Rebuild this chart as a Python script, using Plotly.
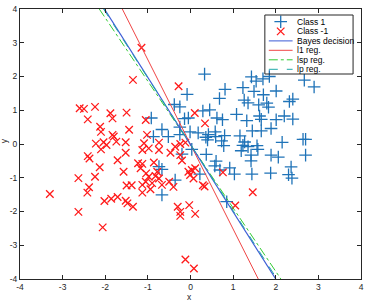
import plotly.graph_objects as go

# ---------------- data ----------------
class1_x = [-0.92, -0.38, -0.25, -0.08, -0.67, -0.87, -0.52, -0.25, -0.25, -0.14, -0.05, -0.01,
            0.18, 0.42, 0.36, 0.58, 0.59, 0.33, 0.81, 0.68, 0.29, 0.45, 0.62, 0.75, 0.80, 1.08,
            1.16, 1.32, 1.43, 1.54, 1.70, 1.85, 2.67, 2.90, 1.23, 1.49, 1.71, 2.01, 1.26, 1.35,
            1.60, 1.79, 1.83, 2.32, 2.40, 1.62, 1.66, 2.01, 2.20, 2.40, 1.45, 1.66, 1.89, 1.27,
            2.15, 2.64, 2.70, 0.78, 1.23, 1.35, 1.56, 1.19, 1.58, 1.42, 1.42, 1.89, 2.06, 2.70,
            1.88, 1.44, 2.36, 2.30, 2.38, 0.92, 1.03, 0.85, 0.37, 0.60, 0.57, 0.22, 0.69, 0.03,
            0.40, 0.73, -0.20, -0.74, -0.67, -0.36, -0.67]
class1_y = [0.77, 1.17, 1.10, 1.47, 0.43, 0.22, 0.22, 0.28, 0.50, 0.75, 0.77, 0.36,
            0.33, 0.28, 0.20, 0.36, 0.22, 2.07, 1.62, 1.35, 0.98, 1.01, 0.77, 0.72, 0.25, 0.88,
            0.24, 0.69, 1.99, 1.86, 1.93, 2.00, 1.89, 1.69, 1.67, 1.56, 1.46, 1.57, 1.30, 1.22,
            1.16, 1.21, 1.09, 1.26, 1.33, 0.83, 0.73, 0.72, 0.83, 0.74, 0.39, 0.39, 0.46, 0.06,
            0.05, 0.14, 0.14, -0.05, -0.04, -0.08, -0.05, -0.20, -0.16, -0.33, -0.50, -0.33, -0.39, -0.33,
            -0.86, -0.89, -0.68, -0.91, -1.01, -0.71, -0.89, -1.71, -0.31, -0.51, -0.65, -0.89, -0.77, -0.16,
            0.12, 0.09, -0.30, -0.67, -0.75, -1.07, -1.51]

classm1_x = [-1.15, -1.35, -0.28, 0.10, 0.34, -2.60, -2.50, -2.24, -2.41, -1.88, -1.83, -1.50,
             -2.12, -2.10, -1.83, -1.80, -1.44, -1.05, -1.02, -2.22, -2.04, -1.97, -2.10, -1.74,
             -1.52, -1.52, -2.41, -2.37, -1.71, -2.13, -1.57, -2.63, -2.24, -1.50, -2.38, -2.42,
             -3.30, -2.02, -1.86, -1.71, -1.52, -1.48, -1.35, -1.38, -2.63, -2.06, -1.09, -0.98,
             -0.74, -0.74, -1.13, -0.47, -0.36, -0.24, -0.12, -0.24, -0.20, -1.23, -1.13, -0.86,
             -1.17, -0.78, -0.05, 0.03, 0.11, -0.01, 0.07, -1.04, -0.98, -0.82, -0.74, -1.05,
             -0.90, -1.13, -0.94, -1.13, -0.50, -0.40, -0.67, 0.33, 0.29, 0.76, 1.46, 1.05,
             -0.30, -0.24, -0.24, -0.03, 0.11, -0.12, 0.08]
classm1_y = [2.85, 1.90, 1.71, 0.92, 0.61, 1.06, 1.04, 1.10, 0.73, 0.91, 0.76, 0.93,
             0.51, 0.36, 0.27, 0.22, 0.42, 0.71, 0.27, 0.01, 0.05, -0.03, -0.16, 0.07,
             0.05, -0.26, -0.36, -0.43, -0.48, -0.69, -0.82, -1.01, -0.97, -1.23, -1.28, -1.44,
             -1.48, -1.69, -1.62, -1.57, -1.68, -1.76, -1.86, -1.22, -2.01, -2.47, 0.02, -0.13,
             0.04, -0.18, -0.18, -0.26, -0.08, 0.00, 0.04, -0.33, -0.49, -0.57, -0.59, -0.55,
             -0.72, -0.82, -0.82, -0.77, -0.72, -0.92, -1.02, -0.87, -0.97, -0.95, -1.02, -1.12,
             -1.16, -1.21, -1.34, -1.44, -1.12, -1.27, -1.21, -1.26, -1.22, -0.84, -1.43, -1.82,
             -1.86, -2.01, -2.13, -1.81, -2.07, -3.42, -3.69]

# decision boundaries: endpoints (x at y=4 and y=-4)
bayes_x = [-2.02, 2.00]
bayes_y = [4, -4]
l1_x = [-1.60, 1.59]
l1_y = [4, -4]
lsp_x = [-2.14, 2.12]
lsp_y = [4, -4]
lp_x = [-2.04, 2.03]
lp_y = [4, -4]

x_ticks = [-4, -3, -2, -1, 0, 1, 2, 3, 4]
y_ticks = [-4, -3, -2, -1, 0, 1, 2, 3, 4]

legend_labels = ["Class 1", "Class -1", "Bayes decision", "l1 reg.", "lsp reg.", "lp reg."]

# ---------------- styles ----------------
C_BLUE = "#1f73b8"
C_RED = "#ff1a1a"
C_BAYES = "#3b5bd6"
C_L1 = "#f04545"
C_LSP = "#33cc33"
C_LP = "#20a8a8"
FONT = "Liberation Sans"
AX = "#262626"

fig = go.Figure()

fig.add_trace(go.Scatter(x=class1_x, y=class1_y, mode="markers", name=legend_labels[0],
                         marker=dict(symbol="cross-thin", size=9, color=C_BLUE,
                                     line=dict(color=C_BLUE, width=1.3)), showlegend=False))
fig.add_trace(go.Scatter(x=classm1_x, y=classm1_y, mode="markers", name=legend_labels[1],
                         marker=dict(symbol="x-thin", size=7.5, color=C_RED,
                                     line=dict(color=C_RED, width=1.3)), showlegend=False))
fig.add_trace(go.Scatter(x=lsp_x, y=lsp_y, mode="lines", name=legend_labels[4],
                         line=dict(color=C_LSP, width=1, dash="dashdot"), showlegend=False))
fig.add_trace(go.Scatter(x=l1_x, y=l1_y, mode="lines", name=legend_labels[3],
                         line=dict(color=C_L1, width=1), showlegend=False))
fig.add_trace(go.Scatter(x=bayes_x, y=bayes_y, mode="lines", name=legend_labels[2],
                         line=dict(color=C_BAYES, width=1.2), showlegend=False))
fig.add_trace(go.Scatter(x=lp_x, y=lp_y, mode="lines", name=legend_labels[5],
                         line=dict(color=C_LP, width=1, dash="dash"), showlegend=False))

# ---------------- custom compact legend (paper coords) ----------------
W, H = 367, 302
ML, MR, MT, MB = 20, 3, 9, 23
pw, ph = W - ML - MR, H - MT - MB


def px2paper(px, py):
    return (px - ML) / pw, (H - MB - py) / ph


shapes = []
annotations = []
bx0, by0 = px2paper(267, 15)
bx1, by1 = px2paper(356, 74)
shapes.append(dict(type="rect", xref="paper", yref="paper", x0=bx0, y0=by1, x1=bx1, y1=by0,
                   line=dict(color=AX, width=1), fillcolor="rgba(0,0,0,0)", layer="above"))
row_y = [21.7, 31.4, 40.9, 50.3, 59.8, 69.3]
line_styles = [None, None, (C_BAYES, "solid"), (C_L1, "solid"), (C_LSP, "dashdot"), (C_LP, "dash")]
sym_x, sym_y = [], []
for i, lab in enumerate(legend_labels):
    tx, ty = px2paper(297, row_y[i])
    annotations.append(dict(x=tx, y=ty, xref="paper", yref="paper", text=lab, showarrow=False,
                            xanchor="left", yanchor="middle",
                            font=dict(family=FONT, size=8.5, color="#000000")))
    if line_styles[i] is not None:
        c, d = line_styles[i]
        x0, yy = px2paper(271, row_y[i])
        x1, _ = px2paper(295, row_y[i])
        shapes.append(dict(type="line", xref="paper", yref="paper", x0=x0, x1=x1, y0=yy, y1=yy,
                           line=dict(color=c, width=1, dash=d), layer="above"))
    else:
        sx, sy = px2paper(283, row_y[i])
        sym_x.append(sx)
        sym_y.append(sy)

fig.add_trace(go.Scatter(x=[sym_x[0]], y=[sym_y[0]], xaxis="x2", yaxis="y2", mode="markers",
                         marker=dict(symbol="cross-thin", size=9, color=C_BLUE,
                                     line=dict(color=C_BLUE, width=1.3)),
                         showlegend=False, hoverinfo="skip"))
fig.add_trace(go.Scatter(x=[sym_x[1]], y=[sym_y[1]], xaxis="x2", yaxis="y2", mode="markers",
                         marker=dict(symbol="x-thin", size=7.5, color=C_RED,
                                     line=dict(color=C_RED, width=1.3)),
                         showlegend=False, hoverinfo="skip"))

# axis titles
xtx, xty = px2paper(191, 297)
annotations.append(dict(x=xtx, y=xty, xref="paper", yref="paper", text="x", showarrow=False,
                        xanchor="center", yanchor="middle", font=dict(family=FONT, size=8.5, color=AX)))
ytx, yty = px2paper(4, 141)
annotations.append(dict(x=ytx, y=yty, xref="paper", yref="paper", text="y", showarrow=False,
                        textangle=-90, xanchor="center", yanchor="middle",
                        font=dict(family=FONT, size=8.5, color=AX)))

axis_common = dict(showgrid=False, zeroline=False, showline=True, linecolor=AX, linewidth=1,
                   mirror="ticks", ticks="inside", ticklen=4, tickcolor=AX, tickwidth=1,
                   tickfont=dict(family=FONT, size=8.5, color=AX))

fig.update_layout(
    width=W, height=H,
    margin=dict(l=ML, r=MR, t=MT, b=MB),
    paper_bgcolor="white", plot_bgcolor="white",
    showlegend=False,
    xaxis=dict(range=[-4, 4], tickvals=x_ticks, ticktext=[str(v) for v in x_ticks], **axis_common),
    yaxis=dict(range=[-4, 4], tickvals=y_ticks, ticktext=[str(v) for v in y_ticks], **axis_common),
    xaxis2=dict(range=[0, 1], domain=[0, 1], overlaying="x", visible=False, anchor="y2"),
    yaxis2=dict(range=[0, 1], domain=[0, 1], overlaying="y", visible=False, anchor="x2"),
    shapes=shapes,
    annotations=annotations,
)

fig.write_html("out.html")
